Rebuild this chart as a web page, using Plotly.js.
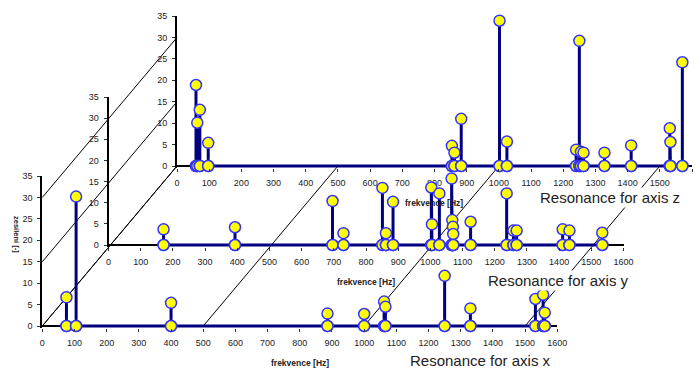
<!DOCTYPE html>
<html>
<head>
<meta charset="utf-8">
<script src="https://cdn.plot.ly/plotly-3.0.1.min.js"></script>
<style>html,body{margin:0;padding:0;background:#fff}#chart{width:700px;height:370px}</style>
</head>
<body>
<div id="chart"></div>
<script>
// ---- data: resonance frequencies [Hz] and amplification [-] ----
const freqAxisX = [75, 105, 400, 886, 1000, 1062, 1066, 1250, 1330, 1532, 1556, 1561];
const ampAxisX  = [6.7, 30.2, 5.4, 2.9, 2.8, 5.7, 4.5, 11.7, 4.1, 6.3, 7.3, 3.1];

const freqAxisY = [171, 393, 696, 730, 851, 862, 884, 1003, 1005, 1028, 1066, 1068, 1070, 1071, 1125, 1237, 1258, 1268, 1411, 1432, 1534];
const ampAxisY  = [3.7, 4.2, 10.4, 2.8, 13.5, 2.8, 10.2, 13.6, 4.9, 12.2, 15.7, 5.9, 4.3, 2.6, 5.5, 12.2, 3.4, 3.4, 3.7, 3.4, 2.9];

const freqAxisZ = [59, 63, 71, 97, 854, 862, 883, 1002, 1025, 1240, 1250, 1255, 1263, 1328, 1411, 1531, 1533, 1570];
const ampAxisZ  = [18.9, 10.1, 13.1, 5.4, 4.7, 3.1, 11.0, 33.9, 5.7, 3.8, 29.2, 3.3, 3.1, 3.1, 4.8, 8.8, 5.6, 24.2];

const xTickVals = [0,100,200,300,400,500,600,700,800,900,1000,1100,1200,1300,1400,1500,1600];
const yTickVals = [0,5,10,15,20,25,30,35];
const xTitle = 'frekvence [Hz]';
const yTitle = 'zesílení [-]';
const seriesLabels = ['Resonance for axis x', 'Resonance for axis y', 'Resonance for axis z'];
const floorLines = [0, 500, 1000, 1500];
const wallLines = [0, 15, 30];

// ---- geometry (pixels) ----
const W = 700, H = 370;
const XMAX = 1600, YMAX = 35, YMIN = -0.5;
const geo = {
  z: {x0: 177,   x1: 692,   y0: 166, y35: 16},
  y: {x0: 108.5, x1: 623.5, y0: 245, y35: 97},
  x: {x0: 42.3,  x1: 557.3, y0: 326, y35: 176}
};
function k(p){ return (p.y0 - p.y35) / YMAX; }
function domX(p){ return [p.x0 / W, p.x1 / W]; }
function domY(p){ return [(H - (p.y0 - YMIN * k(p))) / H, (H - p.y35) / H]; }
function toPaper(p, xv, yv){
  const px = p.x0 + xv / XMAX * (p.x1 - p.x0);
  const py = p.y0 - yv * k(p);
  return [px / W, 1 - py / H];
}

function stems(f, a){
  const xs = [], ys = [];
  for (let i = 0; i < f.length; i++){ xs.push(f[i], f[i], f[i]); ys.push(0, a[i], 0); }
  return {xs, ys};
}

const FONT = 'Arial, "Liberation Sans", sans-serif';
const mk = {size: 11, color: '#FFFF00', line: {color: '#3333FF', width: 1.5}};
const ln = {color: '#000080', width: 3};

function trace(f, a, xa, ya, name){
  const s = stems(f, a);
  return {x: s.xs, y: s.ys, xaxis: xa, yaxis: ya, type: 'scatter', mode: 'lines+markers',
          line: ln, marker: mk, cliponaxis: false, name: name, showlegend: false, hoverinfo: 'x+y'};
}

const data = [
  trace(freqAxisZ, ampAxisZ, 'x',  'y',  seriesLabels[2]),
  trace(freqAxisY, ampAxisY, 'x2', 'y2', seriesLabels[1]),
  trace(freqAxisX, ampAxisX, 'x3', 'y3', seriesLabels[0])
];

function xAxis(p, anchor){
  return {domain: domX(p), anchor: anchor, range: [0, XMAX], tickvals: xTickVals,
    showgrid: false, zeroline: false, showline: false, ticks: 'outside', ticklen: 3, tickcolor: '#333',
    ticklabelstandoff: 3,
    tickfont: {family: FONT, size: 9, color: '#222'}, fixedrange: true};
}
function yAxis(p, anchor){
  return {domain: domY(p), anchor: anchor, range: [YMIN, YMAX], tickvals: yTickVals,
    showgrid: false, zeroline: true, zerolinecolor: '#000', zerolinewidth: 1.5,
    showline: true, linecolor: '#000', linewidth: 2, ticks: 'outside', ticklen: 3, tickcolor: '#333',
    ticklabelstandoff: 3,
    tickfont: {family: FONT, size: 9, color: '#222'}, fixedrange: true};
}

const shapes = [];
floorLines.forEach(v => {
  const a = toPaper(geo.x, v, 0), b = toPaper(geo.z, v, 0);
  shapes.push({type: 'line', xref: 'paper', yref: 'paper', x0: a[0], y0: a[1], x1: b[0], y1: b[1],
    line: {color: '#000', width: 1}, layer: 'below'});
});
wallLines.forEach(v => {
  const a = toPaper(geo.x, 0, v), b = toPaper(geo.z, 0, v);
  shapes.push({type: 'line', xref: 'paper', yref: 'paper', x0: a[0], y0: a[1], x1: b[0], y1: b[1],
    line: {color: '#000', width: 1}, layer: 'below'});
});

const annotations = [];
[geo.z, geo.y, geo.x].forEach(p => {
  const c = toPaper(p, XMAX / 2, 0);
  annotations.push({text: '<b>' + xTitle + '</b>', xref: 'paper', yref: 'paper', x: c[0], y: c[1] - 37 / H,
    showarrow: false, xanchor: 'center', yanchor: 'middle', font: {family: FONT, size: 8.5, color: '#222'}});
});
annotations.push({text: '<b>' + yTitle + '</b>', xref: 'paper', yref: 'paper', x: 17 / W, y: 1 - 234 / H,
  showarrow: false, textangle: 90, xanchor: 'center', yanchor: 'middle', font: {family: FONT, size: 7.5, color: '#222'}});
const labelPos = [[480, 360], [558, 280], [610, 197]];
seriesLabels.forEach((t, i) => {
  annotations.push({text: t, xref: 'paper', yref: 'paper', x: labelPos[i][0] / W, y: 1 - labelPos[i][1] / H,
    showarrow: false, xanchor: 'center', yanchor: 'middle', bgcolor: '#FFFFFF', borderpad: 1,
    font: {family: FONT, size: 15, color: '#222'}});
});

const layout = {
  width: W, height: H, margin: {l: 0, r: 0, t: 0, b: 0},
  paper_bgcolor: '#FFFFFF', plot_bgcolor: 'rgba(0,0,0,0)', showlegend: false,
  xaxis: xAxis(geo.z, 'y'),   yaxis: yAxis(geo.z, 'x'),
  xaxis2: xAxis(geo.y, 'y2'), yaxis2: yAxis(geo.y, 'x2'),
  xaxis3: xAxis(geo.x, 'y3'), yaxis3: yAxis(geo.x, 'x3'),
  shapes: shapes, annotations: annotations
};

Plotly.newPlot('chart', data, layout, {displayModeBar: false, staticPlot: true});
</script>
</body>
</html>
